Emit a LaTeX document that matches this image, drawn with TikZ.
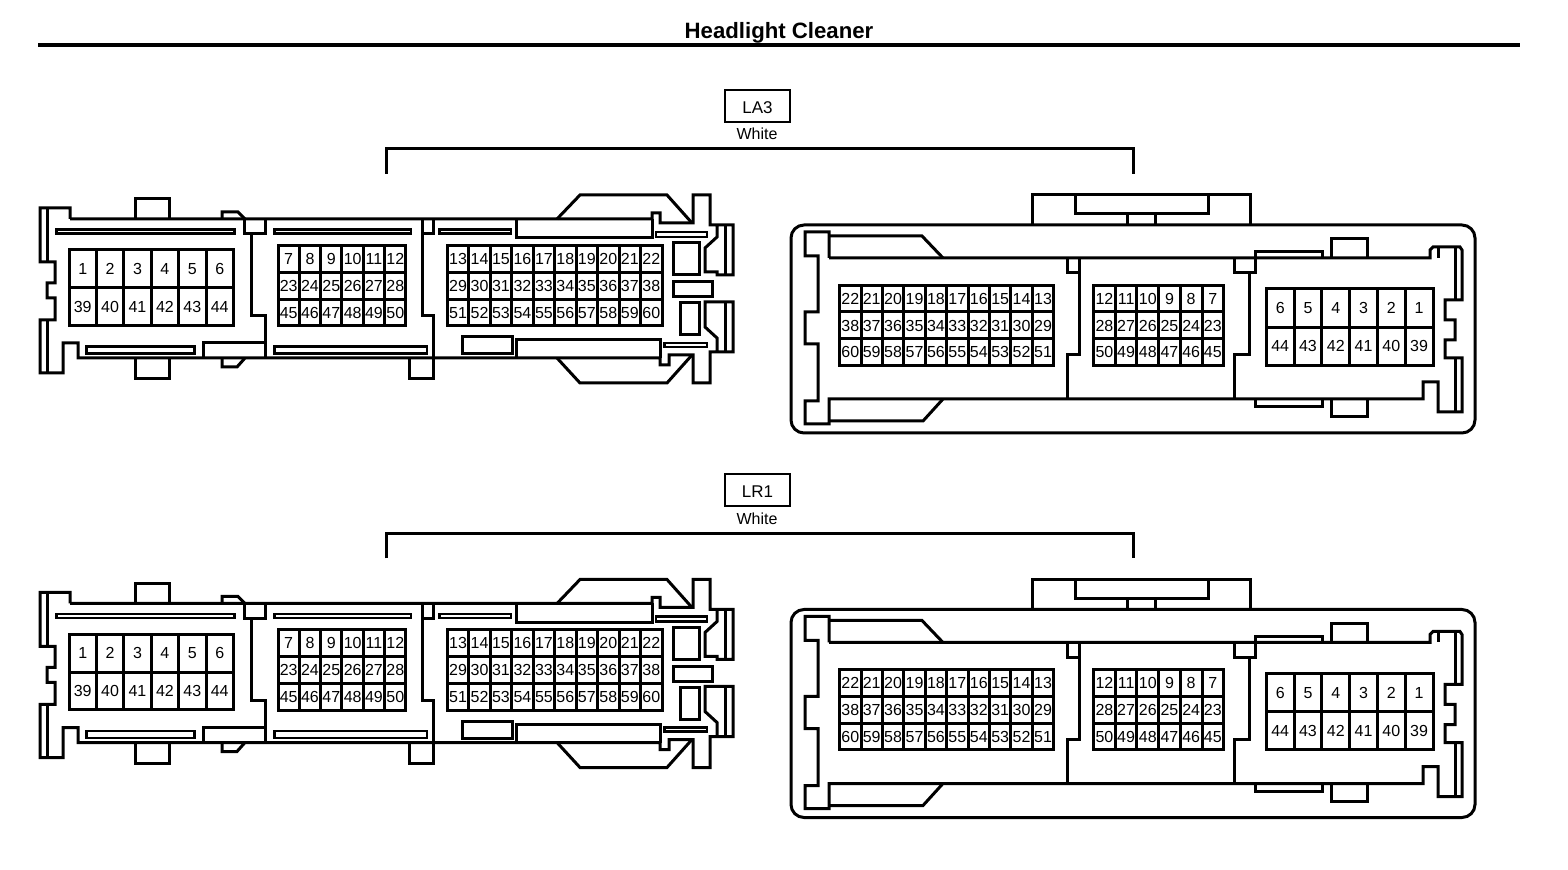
\documentclass[tikz,border=0pt]{standalone}
\usepackage{fontspec}
\setmainfont{Liberation Sans}
\tikzset{
  body/.style={line width=1.5pt,line join=miter},
  slot/.style={line width=1.25pt},
  pincell/.style={draw,line width=1.5pt,rectangle,inner sep=0pt,text height=5.7pt,text depth=0pt,font=\fontsize{8}{9}\selectfont},
  tagbox/.style={draw,line width=1pt,rectangle,inner sep=0pt,text height=7.5pt,text depth=0pt,minimum width=32.5pt,minimum height=16pt,font=\fontsize{8.5}{10}\selectfont},
  colour/.style={inner sep=0pt,font=\fontsize{8}{9}\selectfont},
}
% x0, y0, cell width, cell height, name prefix, rows
\newcommand{\pingrid}[6]{
  \foreach \row [count=\r] in {#6}
    \foreach \n [count=\c] in \row
      \node[pincell,minimum width=#3*0.5pt,minimum height=#4*0.5pt] (#5\n) at ({#1+(\c-.5)*#3},{#2+(\r-.5)*#4}) {\n};
}
\begin{document}
\begin{tikzpicture}[x=0.5pt,y=-0.5pt]
    \useasboundingbox (0,0) rectangle (1568,870);
    \node[inner sep=0pt,font=\fontsize{11.1}{13}\selectfont\bfseries] (title) at (779,33) {Headlight Cleaner};
    \draw[line width=2pt] (38,45.5) -- (1520,45.5);
    \foreach \dy/\pre/\name in {0/a/LA3,384.5/b/LR1}{
    \begin{scope}[shift={(0,\dy)}]
        \node[tagbox] (\pre tag) at (757.5,106) {\name};
        \node[colour] (\pre col) at (757,134) {White};
        \draw[body] (386,174) -- (386,149) -- (1133,149) -- (1133,174);
        % left connector
        \draw[body] (70,219) -- (70,208) -- (40,208) -- (40,262) -- (55,262) -- (55,283) -- (47,283) -- (47,298) -- (55,298) -- (55,320) -- (40,320) -- (40,373) -- (63,373) -- (63,343) -- (78,343) -- (78,358) -- (660,358) -- (660,365) -- (669,365) -- (669,355) -- (693,355) -- (693,383) -- (710,383) -- (710,352) -- (733,352) -- (733,302) -- (705,302) -- (705,327) -- (717,338) -- (717,352);
        \draw[body] (70,219) -- (652,219) -- (652,213) -- (660,213) -- (660,223) -- (693,223) -- (693,195) -- (710,195) -- (710,225) -- (733,225) -- (733,275) -- (717,275) -- (717,272) -- (705,272) -- (705,248) -- (717,237) -- (717,225);
        \draw[body] (47,208) -- (47,262) (47,320) -- (47,373) (725,225) -- (725,275) (725,302) -- (725,352);
        \draw[body] (135,219) -- (135,199) -- (169,199) -- (169,219) (135,358) -- (135,379) -- (169,379) -- (169,358);
        \draw[body] (222,219) -- (222,212) -- (238,212) -- (245,219) (222,358) -- (222,367) -- (237,367) -- (245,358);
        \draw[body] (244,219) -- (244,234) -- (265,234) -- (265,219) (251,234) -- (251,316) -- (265,316) -- (265,358) (203,358) -- (203,343) -- (265,343);
        \draw[body] (422,219) -- (422,316) -- (433,316) -- (433,379) -- (409,379) -- (409,358) (422,234) -- (433,234) -- (433,219);
        \draw[body] (516,219) -- (516,238) -- (652,238) -- (652,219) (516,358) -- (516,340) -- (660,340) -- (660,358);
        \draw[body] (557,219) -- (580,195) -- (667,195) -- (692,223) (557,358) -- (580,383) -- (667,383) -- (692,355);
        \foreach \xa/\ya/\xb/\yb in {56.5/229.5/234.5/233.5,86.5/346.5/194.5/353.5,274.5/229.5/411/233.5,274.5/346.5/427/353.5,439.5/229.5/511/233.5,656/232/707/237,664.5/343/707/347}
            \draw[slot] (\xa,\ya) rectangle (\xb,\yb);
        \foreach \xa/\ya/\xb/\yb in {462/337/512/354,673/243/699/275,673/282/712/297,680/303/699/335}
            \draw[body] (\xa,\ya) rectangle (\xb,\yb);
        \pingrid{69}{250}{27.4}{37.6}{\pre l}{{1,2,3,4,5,6},{39,40,41,42,43,44}}
        \pingrid{278}{245.3}{21.33}{26.9}{\pre l}{{7,8,9,10,11,12},{23,24,25,26,27,28},{45,46,47,48,49,50}}
        \pingrid{447.3}{245.3}{21.47}{26.9}{\pre l}{{13,14,15,16,17,18,19,20,21,22},{29,30,31,32,33,34,35,36,37,38},{51,52,53,54,55,56,57,58,59,60}}
        % right connector
        \draw[body,rounded corners=6.5pt] (791,225) rectangle (1475,433);
        \draw[body] (1032,225) -- (1032,195) -- (1250,195) -- (1250,225) (1075,195) -- (1075,214) -- (1208,214) -- (1208,195) (1127,214) -- (1127,225) (1155,214) -- (1155,225);
        \draw[body] (829,258) -- (829,232) -- (805,232) -- (805,256) -- (818,256) -- (818,312) -- (805,312) -- (805,344) -- (818,344) -- (818,401) -- (805,401) -- (805,424) -- (829,424) -- (829,399) -- (1423,399) -- (1423,382) -- (1438,382) -- (1438,412) -- (1462,412) -- (1462,358) -- (1445,358) -- (1445,340) -- (1455,340) -- (1455,320) -- (1445,320) -- (1445,300) -- (1462,300) -- (1462,250) -- (1460,247) -- (1433,247) -- (1430,250) -- (1430,258) -- (829,258);
        \draw[body] (1438,247) -- (1438,258) (1455,247) -- (1455,300) (1455,358) -- (1455,412);
        \draw[body] (829,236) -- (922,236) -- (943,258) (829,421) -- (923,421) -- (943,399);
        \draw[body] (1067,258) -- (1067,273) -- (1079,273) (1079,258) -- (1079,355) -- (1067,355) -- (1067,399);
        \draw[body] (1234,258) -- (1234,273) -- (1255,273) -- (1255,252) -- (1322,252) -- (1322,258) (1249,273) -- (1249,355) -- (1234,355) -- (1234,399);
        \draw[body] (1255,399) -- (1255,407) -- (1322,407) -- (1322,399);
        \draw[body] (1331,258) -- (1331,239) -- (1367,239) -- (1367,258) (1331,399) -- (1331,417) -- (1367,417) -- (1367,399);
        \pingrid{839.6}{285.3}{21.41}{26.7}{\pre r}{{22,21,20,19,18,17,16,15,14,13},{38,37,36,35,34,33,32,31,30,29},{60,59,58,57,56,55,54,53,52,51}}
        \pingrid{1093.6}{285.3}{21.68}{26.7}{\pre r}{{12,11,10,9,8,7},{28,27,26,25,24,23},{50,49,48,47,46,45}}
        \pingrid{1266.3}{289}{27.78}{38.2}{\pre r}{{6,5,4,3,2,1},{44,43,42,41,40,39}}
    \end{scope}
    }
\end{tikzpicture}
\end{document}
